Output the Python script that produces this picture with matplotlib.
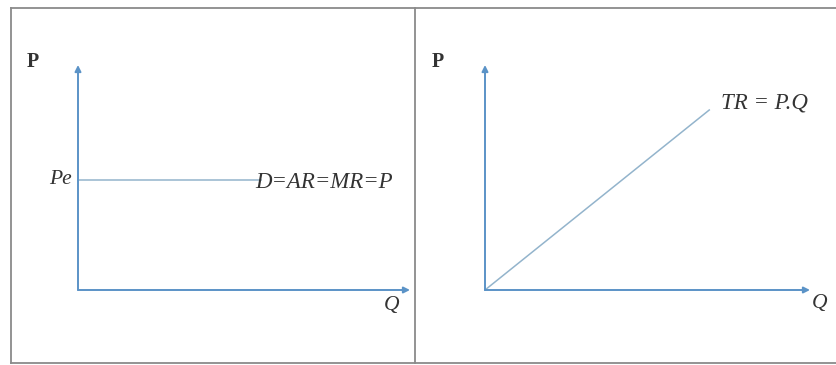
import matplotlib
matplotlib.use("Agg")
import matplotlib.pyplot as plt
from matplotlib.lines import Line2D

# data (abstract units, axes run 0..10)
q_max = 10
p_max = 10
pe_level = 4.9
pe_line_q = [0, 5.5]
tr_q = [0, 6.9]
tr_p = [0, 8.0]

axis_color = "#5b93c7"
curve_color = "#93b4cc"
text_color = "#333333"
frame_color = "#8a8a8a"
serif = "Liberation Serif"

fig = plt.figure(figsize=(8.36, 3.65), dpi=100)
W, H = 836, 365

# outer frame and divider
fig.add_artist(Line2D([11 / W, 11 / W], [2 / H, 357 / H], color=frame_color, lw=1.3))
fig.add_artist(Line2D([11 / W, 1], [357 / H, 357 / H], color=frame_color, lw=1.3))
fig.add_artist(Line2D([11 / W, 1], [2 / H, 2 / H], color=frame_color, lw=1.3))
fig.add_artist(Line2D([415 / W, 415 / W], [2 / H, 357 / H], color=frame_color, lw=1.3))


def make_panel(x0, x1):
    ax = fig.add_axes([x0 / W, 75 / H, (x1 - x0) / W, 225 / H])
    ax.set_xlim(0, q_max)
    ax.set_ylim(0, p_max)
    ax.axis("off")
    arrow = dict(arrowstyle="-|>", color=axis_color, lw=1.4, mutation_scale=9, shrinkA=0, shrinkB=0)
    ax.annotate("", xy=(q_max, 0), xytext=(0, 0), arrowprops=arrow, annotation_clip=False)
    ax.annotate("", xy=(0, p_max), xytext=(0, 0), arrowprops=arrow, annotation_clip=False)
    return ax


# left panel: perfectly competitive demand
ax1 = make_panel(78, 410)
ax1.plot(pe_line_q, [pe_level, pe_level], color=curve_color, lw=1.1, clip_on=False)
ax1.text(pe_line_q[1] - 0.15, pe_level - 0.1, "D=AR=MR=P", family=serif, style="italic", fontsize=16.5,
         color=text_color, ha="left", va="center")
ax1.text(-0.2, pe_level, "Pe", family=serif, style="italic", fontsize=15.5, color=text_color,
         ha="right", va="center")
ax1.text(-1.35, p_max + 0.15, "P", family=serif, fontweight="bold", fontsize=14.5, color=text_color,
         ha="center", va="center")
ax1.text(q_max - 0.55, -0.7, "Q", family=serif, style="italic", fontsize=15.5, color=text_color,
         ha="center", va="center")

# right panel: total revenue
ax2 = make_panel(485, 810)
ax2.plot(tr_q, tr_p, color=curve_color, lw=1.1, clip_on=False)
ax2.text(tr_q[1] + 0.35, tr_p[1] + 0.3, "TR = P.Q", family=serif, style="italic", fontsize=16.5,
         color=text_color, ha="left", va="center")
ax2.text(-1.45, p_max + 0.15, "P", family=serif, fontweight="bold", fontsize=14.5, color=text_color,
         ha="center", va="center")
ax2.text(q_max + 0.3, -0.6, "Q", family=serif, style="italic", fontsize=15.5, color=text_color,
         ha="center", va="center")

fig.savefig("out.png", dpi=100)
